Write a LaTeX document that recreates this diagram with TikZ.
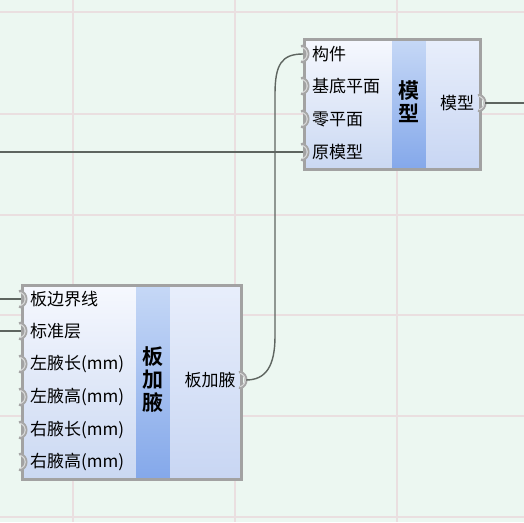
\documentclass[tikz,border=0pt]{standalone}
\usepackage{fontspec}
\newfontfamily\cjk{Noto Sans CJK SC}
\newfontfamily\cjkb{Noto Sans CJK SC Bold}
\definecolor{bg}{HTML}{ECF7F1}
\definecolor{gridc}{HTML}{EADFE0}
\definecolor{bord}{HTML}{A2A2A2}
\definecolor{portc}{HTML}{A6A6A6}
\definecolor{portin}{HTML}{D8D8D8}
\definecolor{wire}{HTML}{5E6560}
\definecolor{lefttop}{HTML}{F6F8FE}
\definecolor{leftbot}{HTML}{CAD8F2}
\definecolor{midtop}{HTML}{C6D8F6}
\definecolor{midbot}{HTML}{84A8EA}
\definecolor{righttop}{HTML}{E8EEFB}
\definecolor{rightbot}{HTML}{C8D6F3}
\tikzset{
  gridline/.style={gridc, line width=2pt},
  boxborder/.style={draw=bord, line width=3pt},
  lab/.style={anchor=west, inner sep=0pt, font=\cjk\fontsize{17}{19}\selectfont},
  outlab/.style={inner sep=0pt, font=\cjk\fontsize{17}{19}\selectfont},
  titlelab/.style={inner sep=0pt, align=center, font=\cjkb\fontsize{21}{23}\selectfont},
  wireline/.style={draw=wire, line width=1.4pt},
  inport/.pic={
    \draw[portc, line width=3pt, line cap=round] (-2,-8) .. controls (6,-5) and (6,5) .. (-2,8);
    \draw[portin, line width=1pt, line cap=round] (-1.5,-6.5) .. controls (5,-4) and (5,4) .. (-1.5,6.5);},
  outport/.pic={
    \draw[portc, line width=3pt, line cap=round] (-1,-8) .. controls (7,-5) and (7,5) .. (-1,8);
    \draw[portin, line width=1pt, line cap=round] (-0.5,-6.5) .. controls (6,-4) and (6,4) .. (-0.5,6.5);}
}
\begin{document}
\begin{tikzpicture}[x=1pt,y=-1pt]
\fill[bg] (0,0) rectangle (524,522);
\useasboundingbox (0,0) rectangle (524,522);
% grid
\foreach \gx in {73,235,397} \draw[gridline] (\gx,0) -- (\gx,522);
\foreach \gy in {12,114,215,315,416,517} \draw[gridline] (0,\gy) -- (524,\gy);

% ---- model box ----
\shade[top color=lefttop, bottom color=leftbot] (304,39) rectangle (392,169);
\shade[top color=midtop, bottom color=midbot] (392,39) rectangle (426,169);
\shade[top color=righttop, bottom color=rightbot] (426,39) rectangle (480,169);
\draw[boxborder] (304,39) rectangle (480,169);
\node[lab] (m1) at (312,54) {构件};
\node[lab] (m2) at (312,86) {基底平面};
\node[lab] (m3) at (312,119) {零平面};
\node[lab] (m4) at (312,152) {原模型};
\node[titlelab] (mt) at (409,102) {模\\型};
\node[outlab] (mo) at (457,103) {模型};
\coordinate (pm1) at (304,54);
\coordinate (pm2) at (304,86);
\coordinate (pm3) at (304,119);
\coordinate (pm4) at (304,152);
\coordinate (pmo) at (480,103);
\foreach \p in {pm1,pm2,pm3,pm4} \pic at (\p) {inport};
\pic at (pmo) {outport};

% ---- board box ----
\shade[top color=lefttop, bottom color=leftbot] (22,285) rectangle (136,479);
\shade[top color=midtop, bottom color=midbot] (136,285) rectangle (170,479);
\shade[top color=righttop, bottom color=rightbot] (170,285) rectangle (241,479);
\draw[boxborder] (22,285) rectangle (241,479);
\node[lab] (b1) at (30,299) {板边界线};
\node[lab] (b2) at (30,331) {标准层};
\node[lab] (b3) at (30,364) {左腋长(mm)};
\node[lab] (b4) at (30,397) {左腋高(mm)};
\node[lab] (b5) at (30,430) {右腋长(mm)};
\node[lab] (b6) at (30,462) {右腋高(mm)};
\node[titlelab] (bt) at (153,380) {板\\加\\腋};
\node[outlab] (bo) at (210,380) {板加腋};
\coordinate (pb1) at (22,299);
\coordinate (pb2) at (22,331);
\coordinate (pb3) at (22,364);
\coordinate (pb4) at (22,397);
\coordinate (pb5) at (22,430);
\coordinate (pb6) at (22,462);
\coordinate (pbo) at (241,380);
\foreach \p in {pb1,pb2,pb3,pb4,pb5,pb6} \pic at (\p) {inport};
\pic at (pbo) {outport};

% ---- wires ----
\coordinate (w1) at (0,152);
\coordinate (w2) at (0,299);
\coordinate (w3) at (0,331);
\coordinate (w4) at (524,103);
\draw[wireline] (w1) -- ([xshift=-1pt]pm4);
\draw[wireline] (w2) -- ([xshift=-1pt]pb1);
\draw[wireline] (w3) -- ([xshift=-1pt]pb2);
\draw[wireline] ([xshift=5pt]pmo) -- (w4);
\draw[wireline] ([xshift=5pt]pbo) .. controls (266,380) and (275,366) .. (275,336)
  -- (275,94) .. controls (275,64) and (282,54) .. ([xshift=-1pt]pm1);
\end{tikzpicture}
\end{document}
